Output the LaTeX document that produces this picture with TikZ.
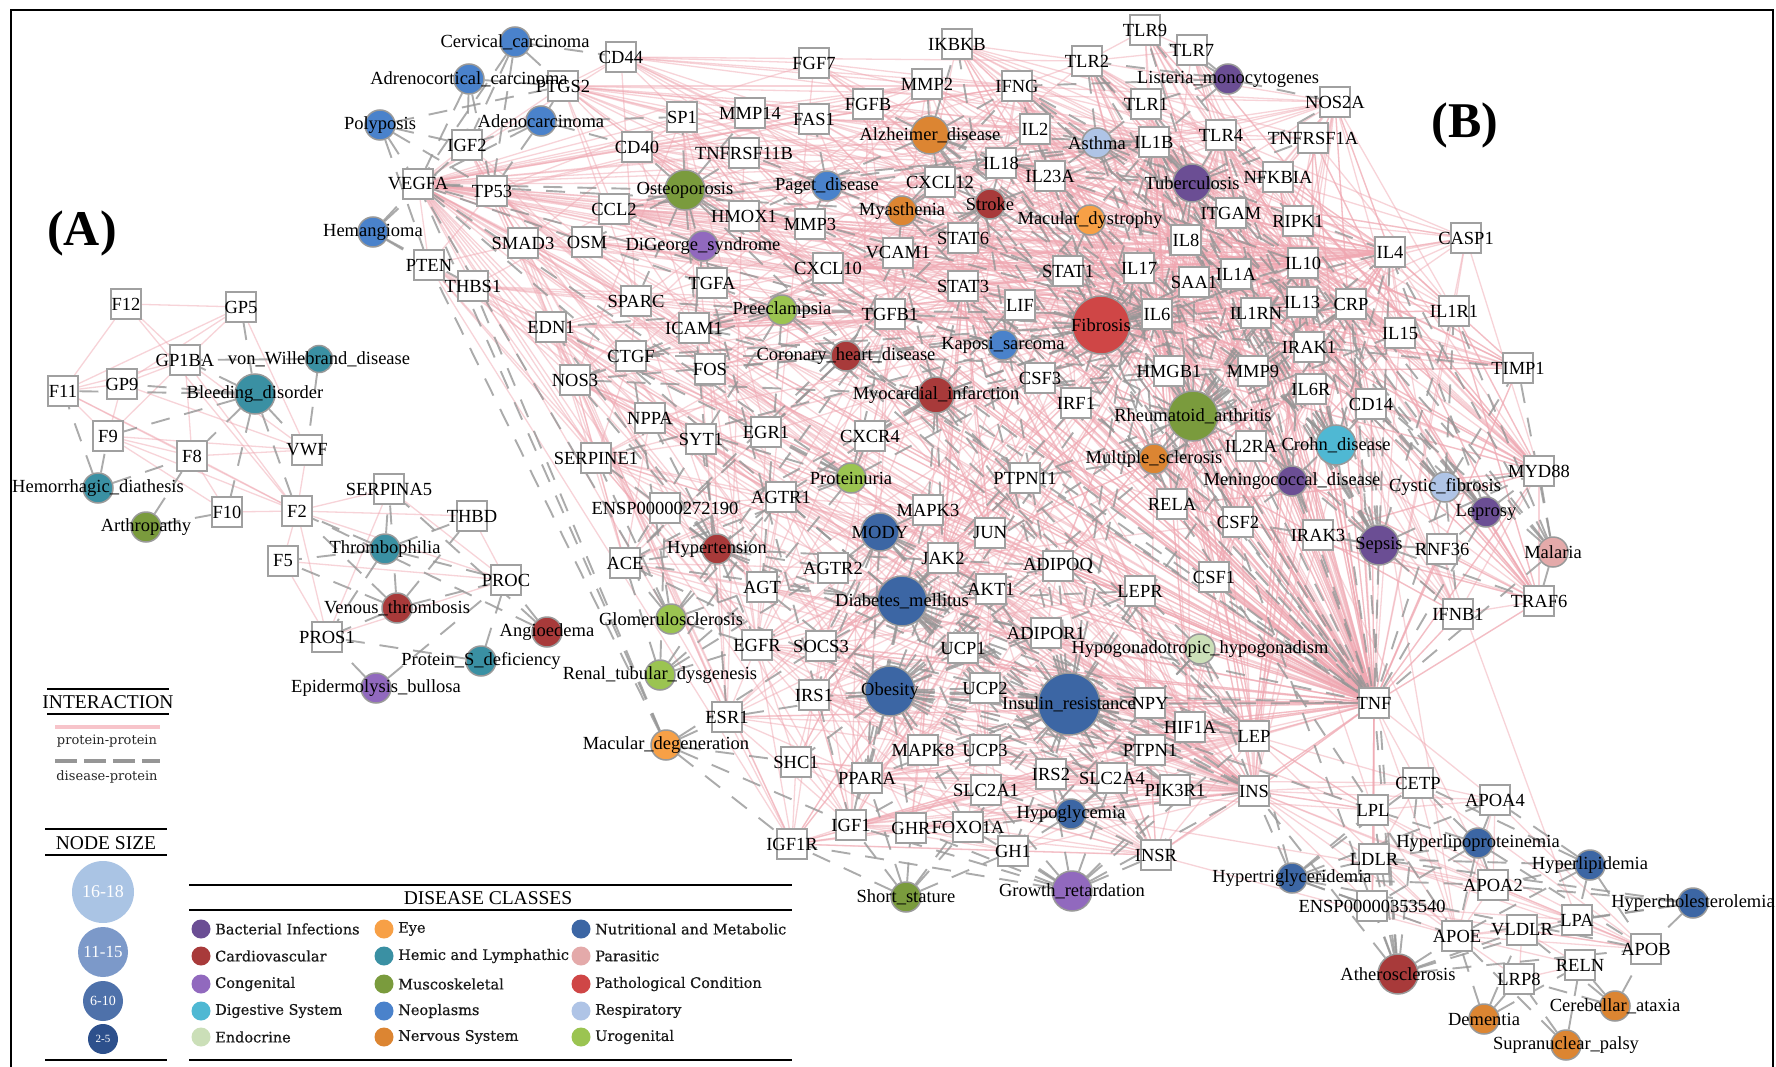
\documentclass[tikz,border=0pt]{standalone}
\usepackage{fontspec}
\setmainfont{Liberation Serif}
\newfontfamily\legfont[FakeBold=0.6]{DejaVu Serif}
\newfontfamily\legfontr{DejaVu Serif}
\pgfdeclarelayer{bgl}\pgfdeclarelayer{pinkl}\pgfdeclarelayer{grayl}\pgfdeclarelayer{txtl}
\pgfsetlayers{bgl,pinkl,grayl,main,txtl}
\definecolor{cBact}{RGB}{107,78,148}
\definecolor{cCardio}{RGB}{168,58,58}
\definecolor{cCong}{RGB}{145,105,190}
\definecolor{cDig}{RGB}{79,184,211}
\definecolor{cEndo}{RGB}{203,223,184}
\definecolor{cEye}{RGB}{247,160,70}
\definecolor{cHemic}{RGB}{58,144,163}
\definecolor{cMusc}{RGB}{122,155,61}
\definecolor{cNeo}{RGB}{74,130,203}
\definecolor{cNerv}{RGB}{220,133,50}
\definecolor{cNutr}{RGB}{60,102,164}
\definecolor{cPara}{RGB}{228,170,170}
\definecolor{cPatho}{RGB}{207,70,70}
\definecolor{cResp}{RGB}{175,196,230}
\definecolor{cUro}{RGB}{155,196,81}
\definecolor{boxgray}{RGB}{160,160,160}
\definecolor{pinkE}{RGB}{240,168,178}
\definecolor{pinkL}{RGB}{247,196,202}
\definecolor{grayE}{RGB}{150,150,150}
\definecolor{sz1}{RGB}{170,196,228}
\definecolor{sz2}{RGB}{124,153,201}
\definecolor{sz3}{RGB}{78,113,170}
\definecolor{sz4}{RGB}{45,80,140}
\tikzset{
 pbox/.style={rectangle, draw=boxgray, line width=2pt, fill=white, minimum size=30pt, inner sep=0pt},
 dnode/.style={circle, draw=black!40, line width=1.5pt, inner sep=0pt},
 lbl/.style={inner sep=0pt, font=\fontsize{18.5}{20}\selectfont, text=black},
 pp/.style={draw=pinkE, line width=1.3pt, draw opacity=0.5},
 dp/.style={draw=grayE, line width=1.9pt, dash pattern=on 19pt off 15pt, draw opacity=0.8},
 legtxt/.style={anchor=west, inner sep=0pt, font=\legfont\fontsize{14.5}{16}\selectfont, text=black!90},
 ttl/.style={inner sep=0pt, font=\fontsize{19.5}{21}\selectfont},
}
\newcommand\mkprot[3]{\node[pbox] (#1) at (#2) {};\begin{pgfonlayer}{txtl}\node[lbl] at (#2) {#3};\end{pgfonlayer}}
\newcommand\mkp[2]{\mkprot{#1}{#2}{#1}}
\newcommand\mkdis[5]{\node[dnode, fill=#4, minimum size=#5pt] (#1) at (#2) {};\begin{pgfonlayer}{txtl}\node[lbl] at (#2) {#3};\end{pgfonlayer}}
\newcommand\hub[3]{\foreach \nb in {#3}{\draw[#1] (#2) -- (\nb);}}
\newcommand\legitem[4]{\fill[#3] (#1,#2) circle (9.5pt);\node[legtxt] at (#1+14,#2) {#4};}
\begin{document}
\begin{tikzpicture}[x=1pt,y=-1pt]
\useasboundingbox (0,0) rectangle (1776,1067);
\begin{pgfonlayer}{bgl}
\fill[white] (0,0) rectangle (1776,1067);
\end{pgfonlayer}
\draw[line width=2.5pt] (11,1090) -- (11,10) -- (1773,10) -- (1773,1090);
% panel labels
\node[inner sep=0pt, font=\bfseries\fontsize{50}{52}\selectfont] at (82,233) {(A)};
\node[inner sep=0pt, font=\bfseries\fontsize{50}{52}\selectfont] at (1465,125) {(B)};
% ---------- Panel A proteins
\mkp{F12}{126,304}
\mkp{GP5}{241,307}
\mkp{GP1BA}{185,360}
\mkp{F11}{63,391}
\mkp{GP9}{122,384}
\mkp{F9}{108,436}
\mkp{F8}{192,456}
\mkp{VWF}{307,450}
\mkp{F10}{227,512}
\mkp{F2}{297,511}
\mkp{SERPINA5}{389,489}
\mkp{THBD}{472,516}
\mkp{F5}{283,561}
\mkp{PROC}{506,580}
\mkp{PROS1}{327,637}
% ---------- Panel B proteins
\mkp{VEGFA}{418,184}
\mkp{PTEN}{429,265}
\mkp{IGF2}{467,145}
\mkp{TP53}{492,191}
\mkp{PTGS2}{563,86}
\mkp{CD44}{621,57}
\mkp{THBS1}{473,286}
\mkp{SMAD3}{523,243}
\mkp{OSM}{587,242}
\mkp{CCL2}{614,209}
\mkp{CD40}{637,147}
\mkp{SP1}{682,117}
\mkp{MMP14}{750,113}
\mkp{FAS1}{814,119}
\mkp{FGF7}{814,63}
\mkp{FGFB}{868,104}
\mkp{TNFRSF11B}{744,153}
\mkp{HMOX1}{744,216}
\mkp{MMP3}{810,224}
\mkp{CXCL10}{828,268}
\mkp{TGFA}{712,283}
\mkp{SPARC}{636,301}
\mkp{EDN1}{551,327}
\mkp{ICAM1}{694,328}
\mkp{CTGF}{631,356}
\mkp{NOS3}{575,380}
\mkp{FOS}{710,369}
\mkp{NPPA}{650,418}
\mkp{SYT1}{701,439}
\mkp{EGR1}{766,432}
\mkp{SERPINE1}{596,458}
\mkprot{ENSP1}{665,508}{ENSP00000272190}
\mkp{AGTR1}{781,497}
\mkp{ACE}{625,563}
\mkp{AGTR2}{833,568}
\mkp{AGT}{762,587}
\mkp{EGFR}{757,645}
\mkp{SOCS3}{821,646}
\mkp{IRS1}{814,695}
\mkp{ESR1}{727,717}
\mkp{SHC1}{796,762}
\mkp{PPARA}{867,778}
\mkp{IGF1}{851,825}
\mkp{IGF1R}{792,844}
\mkp{IKBKB}{957,44}
\mkp{MMP2}{927,84}
\mkp{IFNG}{1017,86}
\mkp{TLR2}{1087,61}
\mkp{TLR9}{1145,30}
\mkp{TLR7}{1192,50}
\mkp{NOS2A}{1335,102}
\mkp{TLR1}{1146,104}
\mkp{IL2}{1035,129}
\mkp{IL1B}{1154,142}
\mkp{TLR4}{1221,135}
\mkp{TNFRSF1A}{1313,138}
\mkp{CXCL12}{940,182}
\mkp{IL18}{1001,163}
\mkp{IL23A}{1050,176}
\mkp{NFKBIA}{1278,177}
\mkp{ITGAM}{1231,213}
\mkp{RIPK1}{1298,221}
\mkp{STAT6}{963,238}
\mkp{IL8}{1186,240}
\mkp{VCAM1}{898,253}
\mkp{STAT1}{1068,271}
\mkp{IL17}{1139,268}
\mkp{SAA1}{1194,282}
\mkp{IL1A}{1236,274}
\mkp{IL10}{1303,263}
\mkp{STAT3}{963,286}
\mkp{TGFB1}{890,314}
\mkp{LIF}{1020,305}
\mkp{IL6}{1157,314}
\mkp{IL1RN}{1256,313}
\mkp{IL13}{1302,302}
\mkp{IRAK1}{1309,347}
\mkp{IL4}{1390,252}
\mkp{CASP1}{1466,238}
\mkp{CRP}{1351,304}
\mkp{IL1R1}{1454,311}
\mkp{IL15}{1400,333}
\mkp{TIMP1}{1518,368}
\mkp{CSF3}{1040,378}
\mkp{IRF1}{1076,403}
\mkp{HMGB1}{1169,371}
\mkp{MMP9}{1253,371}
\mkp{IL6R}{1311,389}
\mkp{CXCR4}{870,436}
\mkp{IL2RA}{1251,446}
\mkp{PTPN11}{1025,478}
\mkp{RELA}{1172,504}
\mkp{MAPK3}{928,510}
\mkp{CSF2}{1238,522}
\mkp{IRAK3}{1318,535}
\mkp{JUN}{990,533}
\mkp{JAK2}{943,558}
\mkp{ADIPOQ}{1058,566}
\mkp{AKT1}{991,589}
\mkp{LEPR}{1140,591}
\mkp{CSF1}{1214,577}
\mkp{ADIPOR1}{1046,633}
\mkp{UCP1}{963,648}
\mkp{UCP2}{985,688}
\mkp{NPY}{1150,703}
\mkp{CD14}{1371,404}
\mkp{MYD88}{1539,471}
\mkp{RNF36}{1442,549}
\mkp{IFNB1}{1458,614}
\mkp{TRAF6}{1539,601}
\mkp{TNF}{1374,703}
\mkp{MAPK8}{923,750}
\mkp{UCP3}{985,750}
\mkp{HIF1A}{1190,727}
\mkp{LEP}{1254,736}
\mkp{PTPN1}{1150,750}
\mkp{IRS2}{1051,774}
\mkp{SLC2A4}{1112,778}
\mkp{SLC2A1}{986,790}
\mkp{PIK3R1}{1175,790}
\mkp{INS}{1254,791}
\mkp{GHR}{911,828}
\mkp{FOXO1A}{968,827}
\mkp{GH1}{1013,851}
\mkp{INSR}{1156,855}
\mkp{CETP}{1418,783}
\mkp{LPL}{1373,810}
\mkp{APOA4}{1495,800}
\mkp{LDLR}{1374,859}
\mkp{APOA2}{1493,885}
\mkprot{ENSP2}{1372,906}{ENSP00000353540}
\mkp{LPA}{1577,920}
\mkp{VLDLR}{1522,930}
\mkp{APOE}{1457,936}
\mkp{APOB}{1646,949}
\mkp{RELN}{1580,965}
\mkp{LRP8}{1519,979}
% ---------- Diseases panel A
\mkdis{vWD}{319,359}{von\_Willebrand\_disease}{cHemic}{27}
\mkdis{Bleeding}{255,394}{Bleeding\_disorder}{cHemic}{40}
\mkdis{Hemorrhagic}{98,488}{Hemorrhagic\_diathesis}{cHemic}{30}
\mkdis{Arthropathy}{146,527}{Arthropathy}{cMusc}{30}
\mkdis{Thrombophilia}{385,549}{Thrombophilia}{cHemic}{30}
\mkdis{Venous}{397,608}{Venous\_thrombosis}{cCardio}{30}
\mkdis{Angioedema}{547,632}{Angioedema}{cCardio}{30}
\mkdis{ProtS}{481,661}{Protein\_S\_deficiency}{cHemic}{30}
\mkdis{Epidermolysis}{376,688}{Epidermolysis\_bullosa}{cCong}{30}
% ---------- Diseases panel B
\mkdis{Polyposis}{380,125}{Polyposis}{cNeo}{30}
\mkdis{Cervical}{515,42}{Cervical\_carcinoma}{cNeo}{30}
\mkdis{Adrenocortical}{469,79}{Adrenocortical\_carcinoma}{cNeo}{30}
\mkdis{Adenocarcinoma}{541,121}{Adenocarcinoma}{cNeo}{30}
\mkdis{Hemangioma}{373,232}{Hemangioma}{cNeo}{30}
\mkdis{Osteoporosis}{685,190}{Osteoporosis}{cMusc}{40}
\mkdis{Paget}{827,186}{Paget\_disease}{cNeo}{30}
\mkdis{DiGeorge}{703,246}{DiGeorge\_syndrome}{cCong}{30}
\mkdis{Preeclampsia}{782,310}{Preeclampsia}{cUro}{30}
\mkdis{Coronary}{846,356}{Coronary\_heart\_disease}{cCardio}{30}
\mkdis{Alzheimer}{930,135}{Alzheimer\_disease}{cNerv}{38}
\mkdis{Myasthenia}{902,211}{Myasthenia}{cNerv}{30}
\mkdis{Stroke}{990,204}{Stroke}{cCardio}{30}
\mkdis{Asthma}{1097,143}{Asthma}{cResp}{30}
\mkdis{MacDys}{1090,220}{Macular\_dystrophy}{cEye}{30}
\mkdis{Listeria}{1228,79}{Listeria\_monocytogenes}{cBact}{30}
\mkdis{Tuberculosis}{1192,183}{Tuberculosis}{cBact}{38}
\mkdis{Fibrosis}{1101,325}{Fibrosis}{cPatho}{58}
\mkdis{Kaposi}{1003,345}{Kaposi\_sarcoma}{cNeo}{30}
\mkdis{MyoInf}{936,395}{Myocardial\_infarction}{cCardio}{36}
\mkdis{RA}{1193,416}{Rheumatoid\_arthritis}{cMusc}{50}
\mkdis{MS}{1154,459}{Multiple\_sclerosis}{cNerv}{30}
\mkdis{Crohn}{1336,445}{Crohn\_disease}{cDig}{40}
\mkdis{Mening}{1292,481}{Meningococcal\_disease}{cBact}{30}
\mkdis{Cystic}{1445,487}{Cystic\_fibrosis}{cResp}{30}
\mkdis{Leprosy}{1486,512}{Leprosy}{cBact}{30}
\mkdis{Sepsis}{1379,545}{Sepsis}{cBact}{40}
\mkdis{Malaria}{1553,552}{Malaria}{cPara}{30}
\mkdis{Proteinuria}{851,478}{Proteinuria}{cUro}{30}
\mkdis{Hypertension}{717,549}{Hypertension}{cCardio}{30}
\mkdis{Glomerulo}{671,619}{Glomerulosclerosis}{cUro}{30}
\mkdis{Renal}{660,675}{Renal\_tubular\_dysgenesis}{cUro}{30}
\mkdis{MODY}{880,532}{MODY}{cNutr}{38}
\mkdis{Diabetes}{902,601}{Diabetes\_mellitus}{cNutr}{50}
\mkdis{Obesity}{890,691}{Obesity}{cNutr}{50}
\mkdis{InsRes}{1069,704}{Insulin\_resistance}{cNutr}{62}
\mkdis{Hypogon}{1200,649}{Hypogonadotropic\_hypogonadism}{cEndo}{30}
\mkdis{MacDeg}{666,745}{Macular\_degeneration}{cEye}{30}
\mkdis{ShortStat}{906,897}{Short\_stature}{cMusc}{30}
\mkdis{GrowthRet}{1072,891}{Growth\_retardation}{cCong}{40}
\mkdis{Hypoglycemia}{1071,814}{Hypoglycemia}{cNutr}{30}
\mkdis{Hypertrig}{1292,878}{Hypertriglyceridemia}{cNutr}{30}
\mkdis{Hyperlipo}{1478,843}{Hyperlipoproteinemia}{cNutr}{30}
\mkdis{Hyperlipid}{1590,865}{Hyperlipidemia}{cNutr}{30}
\mkdis{Hyperchol}{1693,903}{Hypercholesterolemia}{cNutr}{30}
\mkdis{Athero}{1398,974}{Atherosclerosis}{cCardio}{40}
\mkdis{Dementia}{1484,1019}{Dementia}{cNerv}{30}
\mkdis{Cerebellar}{1615,1006}{Cerebellar\_ataxia}{cNerv}{30}
\mkdis{Supranuclear}{1566,1045}{Supranuclear\_palsy}{cNerv}{30}
% ---------- protein-protein edges
\begin{pgfonlayer}{pinkl}
\hub{pp}{F12}{GP5,GP1BA,F11,F2}
\hub{pp}{GP5}{GP1BA,GP9,F11,VWF}
\hub{pp}{GP1BA}{F11,GP9,F8,VWF,F2,F9}
\hub{pp}{F11}{GP9,F9,F8,F2}
\hub{pp}{GP9}{F9,VWF}
\hub{pp}{F9}{F8,F2,F10,VWF}
\hub{pp}{F8}{F10,F2,VWF}
\hub{pp}{VWF}{F2}
\hub{pp}{F10}{F2}
\hub{pp}{F2}{SERPINA5,THBD,PROC,F5,PROS1}
\hub{pp}{F5}{PROC,PROS1}
\hub{pp}{SERPINA5}{PROC,PROS1}
\hub{pp}{THBD}{PROC}
\hub{pp}{PROS1}{PROC}
\hub{pp}{VEGFA}{PTGS2,IGF2,TP53,PTEN,THBS1,SMAD3,OSM,CCL2,CD40,SP1,MMP14,FAS1,FGF7,FGFB,MMP2,CD44,TNFRSF11B,HMOX1,MMP3,CXCL10,TGFA,SPARC,EDN1,ICAM1,CTGF,NOS3,VCAM1,STAT3,STAT1,TGFB1,IL8,IL6,IL1B,IFNG,CXCL12,HIF1A,MMP9,TNF,EGFR,IGF1,AKT1,JUN,FOS,IL18,LIF,IL2,IL17,SERPINE1,NPPA,AGT,ESR1,INS,IL10,IL4}
\hub{pp}{TP53}{PTEN,IGF2,MMP2,SP1,SMAD3,FAS1,AKT1,JUN,EGFR,HIF1A,IGF1R,MAPK8,TNF,ESR1,IL6,FOS,MAPK3}
\hub{pp}{PTGS2}{CD44,IL1B,IL6,TNF,NOS2A,IFNG,CCL2,IL8,TGFB1,HIF1A,STAT3,EGFR,MMP9,SP1,TLR4,NFKBIA,IL10,IL4,IL2}
\hub{pp}{CD44}{MMP9,MMP2,SPARC,FGF7,IL8,TLR2,TLR4,SP1,STAT3,IL6,IFNG,HMGB1}
\hub{pp}{IGF2}{IGF1R,INS,INSR,IGF1,FOXO1A}
\hub{pp}{PTEN}{AKT1,IGF1R,PIK3R1,INS,IRS1,EGFR,SMAD3}
\hub{pp}{THBS1}{TGFB1,SPARC,MMP9,CTGF,EDN1,NOS3,IL6,CCL2,SERPINE1}
\hub{pp}{SMAD3}{TGFB1,CTGF,SERPINE1,JUN,STAT3,ESR1,SP1,FOS,MAPK3,IL6}
\hub{pp}{OSM}{IL6,STAT3,LIF,STAT1,JAK2,TIMP1,MMP3,IL1B,TNF,IL6R}
\hub{pp}{CCL2}{IL6,IL1B,TNF,IL8,ICAM1,VCAM1,CXCL10,IFNG,IL4,IL10,IL13,CXCR4,MMP9,NOS2A,CXCL12,IL17,STAT3,IL18,IL2}
\hub{pp}{CD40}{TNF,IL4,IFNG,IL6,IL10,TRAF6,ICAM1,VCAM1,IL1B,IL2,NFKBIA,RELA}
\hub{pp}{SP1}{FOS,JUN,MMP2,EGR1,HMOX1,ESR1,LEP,INS,NOS3,IL6}
\hub{pp}{MMP14}{MMP2,MMP9,TIMP1,MMP3,CD44,TNF}
\hub{pp}{FAS1}{TNF,IL2,IFNG,TNFRSF1A,RIPK1,IL10,JUN,STAT1,IL6,IL1B}
\hub{pp}{FGF7}{FGFB,EGFR,IL1B,IL6,TNF,IL1A,IL17,IFNG}
\hub{pp}{FGFB}{IL6,TGFB1,MMP2,IL1B,TNF,HIF1A,MMP9,CXCL12,IGF1}
\hub{pp}{MMP2}{MMP9,TIMP1,MMP3,TNF,IL1B,IL6,TGFB1,IFNG,HIF1A,SPARC,CTGF,IL8}
\hub{pp}{IKBKB}{NFKBIA,RELA,TNF,IL1B,TLR4,IRAK1,TRAF6,RIPK1,TNFRSF1A,MYD88,IRS1,IL6,IFNG,TLR2}
\hub{pp}{IFNG}{IL2,IL4,IL10,TNF,IL18,IL17,STAT1,IRF1,CXCL10,IL1B,IL6,IL8,TLR2,TLR4,ICAM1,NOS2A,IL13,IL15,CSF2,IL2RA,IL23A}
\hub{pp}{TLR2}{TLR1,TLR4,TLR9,TLR7,MYD88,IRAK1,TRAF6,TNF,IL1B,IL6,IL8,IL10,CD14,HMGB1,NFKBIA,NOS2A,CXCL10}
\hub{pp}{TLR9}{TLR7,TLR4,MYD88,IRAK1,TNF,IFNB1,IL6,TRAF6,IL10,HMGB1}
\hub{pp}{TLR7}{MYD88,IRAK1,IFNB1,TNF,TRAF6,IL6,TLR4}
\hub{pp}{TLR1}{TLR4,MYD88,TNF,IL1B,CD14,IL6}
\hub{pp}{TLR4}{MYD88,CD14,TNF,IL1B,IL6,IL10,NFKBIA,IRAK1,TRAF6,HMGB1,IFNB1,IL8,NOS2A,RELA,IRAK3,SAA1,CASP1,IL1R1,IL4}
\hub{pp}{NOS2A}{TNF,IL1B,IL6,NFKBIA,IL10,STAT1,IRF1,IL4,IL13,HMOX1,RELA,ICAM1,INS,IL1R1,IL15}
\hub{pp}{TNFRSF1A}{TNF,RIPK1,TRAF6,NFKBIA,IL1R1,IL6,IL1B,IRAK1,IL6R}
\hub{pp}{IL1B}{IL6,TNF,IL8,IL10,IL1A,IL1RN,IL1R1,IL18,CASP1,IL4,IL13,IL17,IL2,NFKBIA,IRAK1,MYD88,CRP,SAA1,MMP9,MMP3,ICAM1,VCAM1,CXCL10,IL23A,IL15,HMGB1,CSF2,CSF3,TIMP1,IL6R,IL2RA,LEP,INS}
\hub{pp}{IL2}{IL4,IL10,IL2RA,IL15,IL13,TNF,IL6,IL17,IL18,IL1A,STAT3,CSF2,IL23A,STAT1}
\hub{pp}{IL18}{CASP1,TNF,IL6,IL10,IL4,IL17,IL8,IL1R1,IL1RN,MYD88}
\hub{pp}{IL23A}{IL17,IL6,IL10,STAT3,TNF,TGFB1,IL4,IL13}
\hub{pp}{CXCL12}{CXCR4,IL8,MMP9,MMP2,TNF,IL6,HIF1A,STAT3,IL1B}
\hub{pp}{NFKBIA}{RELA,TNF,IL6,IL8,TRAF6,RIPK1,IRAK1,MYD88,IL10}
\hub{pp}{RIPK1}{TNF,TRAF6,CASP1,IRAK1,MYD88,TLR4}
\hub{pp}{ITGAM}{ICAM1,TNF,IL8,CD14,IL1B,IL6,CSF2,TLR4,TLR2}
\hub{pp}{IL8}{IL6,TNF,IL10,IL4,CXCL10,ICAM1,VCAM1,MMP9,HMGB1,IL17,CSF2,IL1A,IL13,CRP,SAA1,RELA,STAT3,HIF1A}
\hub{pp}{STAT6}{IL4,IL13,STAT1,STAT3,JAK2,IL10,CCL2}
\hub{pp}{STAT1}{STAT3,IRF1,JAK2,IL6,IL10,IL4,IFNB1,CXCL10,SOCS3,TNF}
\hub{pp}{STAT3}{IL6,IL10,JAK2,SOCS3,IL6R,LEPR,LEP,IL17,IL2,IL4,TNF,EGFR,AKT1,JUN,HIF1A,INS,LIF,CSF3,IL15,IL13,TIMP1}
\hub{pp}{LIF}{IL6,JAK2,TNF,IL1B}
\hub{pp}{TGFB1}{IL6,IL10,IL17,TNF,IL1B,IL4,CTGF,SERPINE1,MMP9,TIMP1,IFNG,IL2,IL13,FOS,JUN,EGFR,HMOX1,SPARC,IGF1,LEP,ADIPOQ,CCL2,ICAM1,VCAM1,EDN1,ACE,AGT,AGTR1,PPARA}
\hub{pp}{VCAM1}{ICAM1,TNF,IL6,IL4,IL13,CXCL12,NOS3,EDN1}
\hub{pp}{ICAM1}{TNF,IL6,NFKBIA,RELA,CRP,IL10,IL4,IL13}
\hub{pp}{CXCL10}{TNF,CCL2,IL6,STAT1,IRF1,IL10,IL4,IL17,TLR4}
\hub{pp}{HMOX1}{TNF,IL6,IL10,IL1B,HIF1A,NOS3,STAT3}
\hub{pp}{MMP3}{MMP9,TIMP1,TNF,IL6,IL17,IL1A}
\hub{pp}{TNFRSF11B}{TNF,IL6,IL1B,IL17,TGFB1,IL1A,ESR1}
\hub{pp}{TGFA}{EGFR,TNF,IL8,TGFB1}
\hub{pp}{SPARC}{CTGF,MMP9}
\hub{pp}{EDN1}{NOS3,TNF,IL6,IL1B,AGT,ACE,AGTR1,NPPA,HIF1A,ICAM1,INS,EGR1}
\hub{pp}{CTGF}{SERPINE1,EGR1,FOS,JUN,IL6}
\hub{pp}{NOS3}{AGT,ACE,AGTR1,INS,AKT1,HIF1A,TNF,IL6,ESR1,ADIPOQ,NPPA,SERPINE1}
\hub{pp}{FOS}{JUN,EGR1,MAPK3,MAPK8,ESR1,TNF,IL6,IL1B,STAT3,IL2,IFNG,EGFR,INS}
\hub{pp}{NPPA}{AGT,ACE,AGTR1,AGTR2,IL6,TNF,INS}
\hub{pp}{SYT1}{INS,NPY,SLC2A4}
\hub{pp}{EGR1}{JUN,TNF,EGFR,TGFB1,IL6,IL1B,SERPINE1,ICAM1,PTEN}
\hub{pp}{SERPINE1}{TNF,IL6,IL1B,INS,ADIPOQ,LEP,AGT,ACE,AGTR1,PPARA}
\hub{pp}{ENSP1}{AGT,ACE,AGTR1,AGTR2}
\hub{pp}{AGTR1}{AGT,ACE,AGTR2,EDN1,TNF,IL6,JAK2,STAT3,EGFR,MAPK3,INS,ADIPOQ,LEP,PPARA}
\hub{pp}{ACE}{AGT,AGTR2,INS,TNF,IL6,LEP}
\hub{pp}{AGTR2}{AGT,MAPK3,PTPN11}
\hub{pp}{AGT}{INS,LEP,TNF,IL6,ADIPOQ,PPARA,LPL}
\hub{pp}{EGFR}{SHC1,IRS1,JAK2,MAPK3,MAPK8,AKT1,PTPN11,SOCS3,ESR1,JUN,IGF1R,INSR,PIK3R1,PTPN1,HIF1A,TNF,IL6,INS}
\hub{pp}{SOCS3}{JAK2,IL6,LEPR,LEP,INS,INSR,IRS1,IRS2,IL10,TNF}
\hub{pp}{IRS1}{INS,INSR,IGF1R,IGF1,PIK3R1,AKT1,PTPN1,PTPN11,SHC1,JAK2,MAPK3,MAPK8,TNF,IRS2,SLC2A4,FOXO1A}
\hub{pp}{ESR1}{IGF1,INS,LEP,TNF,IL6,JUN,MAPK3,AKT1,PPARA,IGF1R}
\hub{pp}{SHC1}{IGF1R,INSR,PTPN11,MAPK3,GHR,PIK3R1,INS}
\hub{pp}{PPARA}{INS,LEP,ADIPOQ,TNF,IL6,LPL,APOA2,APOE,UCP2,UCP3,UCP1,SLC2A4,FOXO1A,LEPR,NPY,IL1B,CETP}
\hub{pp}{IGF1}{IGF1R,INS,INSR,GH1,GHR,IRS1,IRS2,AKT1,PIK3R1,FOXO1A,SHC1,LEP,TNF,IL6,SLC2A1,SLC2A4,PTPN11,SOCS3,HIF1A}
\hub{pp}{IGF1R}{INS,INSR,IRS2,PIK3R1,AKT1,PTPN11,PTPN1}
\hub{pp}{MAPK3}{MAPK8,JUN,INS,INSR,IRS1,SHC1,STAT3,TNF,IL6,LEP,AKT1,PTPN11,JAK2}
\hub{pp}{JUN}{MAPK8,TNF,IL6,IL1B,STAT3,SP1,TGFB1,HIF1A}
\hub{pp}{JAK2}{STAT3,STAT1,SOCS3,LEPR,LEP,IL6,IL6R,INS,IRS1,IRS2,GHR,GH1,PTPN1,PTPN11,CSF2,CSF3,IFNG}
\hub{pp}{AKT1}{PIK3R1,IRS2,INS,INSR,FOXO1A,SLC2A4,SLC2A1,HIF1A,TNF,IL6,ADIPOQ,LEP,PTPN1,IGF1R}
\hub{pp}{ADIPOQ}{ADIPOR1,LEP,LEPR,INS,INSR,TNF,IL6,IRS1,SLC2A4,CRP,UCP2,NPY,IL10}
\hub{pp}{LEPR}{LEP,JAK2,NPY,INS,INSR,PTPN1,IRS1,IRS2,GHR}
\hub{pp}{CSF1}{CSF2,CSF3,IL6,TNF,IL1B,IL4,IL10,IL13,IL17,IFNG}
\hub{pp}{ADIPOR1}{INS,LEP,PPARA,UCP2,AKT1}
\hub{pp}{UCP1}{UCP2,UCP3,LEP,INS,ADIPOQ,NPY}
\hub{pp}{UCP2}{UCP3,LEP,INS,NPY}
\hub{pp}{NPY}{LEP,INS,IL6,TNF,GH1}
\hub{pp}{HIF1A}{INS,IL6,TNF,SLC2A1,LEP,IGF1,NOS2A,IL1B}
\hub{pp}{LEP}{INS,INSR,TNF,IL6,IL1B,UCP3,IRS1,IRS2,PTPN1,SLC2A4,CRP,IL10,GH1,GHR,LPL,APOE,CETP,SAA1}
\hub{pp}{MAPK8}{INS,IRS1,TNF,IL6}
\hub{pp}{UCP3}{INS}
\hub{pp}{PTPN1}{INS,INSR,IRS2}
\hub{pp}{IRS2}{INS,INSR,PIK3R1,FOXO1A}
\hub{pp}{SLC2A4}{INS,INSR,PIK3R1,SLC2A1,TNF}
\hub{pp}{SLC2A1}{INS,INSR}
\hub{pp}{PIK3R1}{INS,INSR,PTPN11}
\hub{pp}{INS}{INSR,GH1,GHR,FOXO1A,UCP1,UCP2,NPY,TNF,IL6,CRP,IL10,IL4,TLR4,CETP,APOA4,LDLR,APOE,APOB,APOA2,ENSP2,LPL,IL1B}
\hub{pp}{GHR}{GH1,STAT3,SOCS3,INS,IGF1R}
\hub{pp}{FOXO1A}{INSR}
\hub{pp}{GH1}{IGF1R,INSR}
\hub{pp}{INSR}{PTPN11,TNF}
\hub{pp}{PTPN11}{STAT3,LEPR,GHR,IL6,IL6R,IGF1R}
\hub{pp}{CXCR4}{IL8,TNF,IL4,STAT3,IL10,CSF3}
\hub{pp}{CSF3}{CSF2,IL6,IL1B,TNF,IL17,IL8,IL10}
\hub{pp}{IRF1}{IFNB1,TNF,IL6,IL1B,TLR4}
\hub{pp}{HMGB1}{TNF,IL6,IL1B,IL8,MYD88,RELA,IL10,IL17,CASP1}
\hub{pp}{MMP9}{TIMP1,TNF,IL1B,IL6,IL17,IL10,IL4,CRP,HIF1A,SAA1}
\hub{pp}{IL6R}{IL6,JAK2,SOCS3,TNF,IL10,IL17,CRP,SAA1,LEP}
\hub{pp}{IL2RA}{IL15,IL4,IL10,TNF,IL6,IL17,IL13}
\hub{pp}{RELA}{TNF,IL6,IL1B,IKBKB,TRAF6,MYD88,IRAK1,IL10,IL4,STAT3,VCAM1,NOS2A,RIPK1}
\hub{pp}{CSF2}{CSF1,IL6,TNF,IL4,IL13,IL10,IL17,IL15,STAT3}
\hub{pp}{IRAK3}{IRAK1,MYD88,TRAF6,TLR4,TNF,IL6,IL10,IL1B}
\hub{pp}{CD14}{MYD88,TNF,IL6,IL1B,IL10,IL8,CRP,SAA1,IRAK1,TRAF6}
\hub{pp}{TIMP1}{MMP9,MMP2,MMP3,TNF,IL6,IL1B,IL10,IL4,IL13}
\hub{pp}{MYD88}{IRAK1,IRAK3,TRAF6,TNF,IL1B,IL6,IL18,IL1R1,NFKBIA,RELA,IFNB1,IL10,HMGB1,TLR7,TLR9}
\hub{pp}{RNF36}{TNF,IFNB1,IL4,TRAF6}
\hub{pp}{IFNB1}{TNF,IL6,IL10,IRF1,STAT1,TRAF6,IFNG,IL1B}
\hub{pp}{TRAF6}{TNF,IRAK1,NFKBIA,RELA,IKBKB,IL1R1,IL6,IL1B,CD40,RIPK1,TNFRSF1A}
\hub{pp}{TNF}{IL10,IL4,IL1A,IL2,TLR1,IKBKB,CRP,IL15,IL1R1,CASP1,TIMP1,IRAK1,IL6R,IL2RA,CSF2,CSF1,RELA,LEPR,ADIPOQ,INS,LEP,SAA1,HMGB1,MMP9,IL13,IL17,IL23A,IL18,STAT1,STAT3,ICAM1,VCAM1,CCL2,SOCS3,NPY,PPARA,LPL,CETP,IL1RN,ITGAM,NOS2A,IRF1,CSF3,HMOX1,MMP3,MMP2,TGFB1,VEGFA,PTGS2,CXCL10,CXCL12,EDN1,FAS1,CD40,APOE,LDLR,ENSP2,INSR,IRS1,HIF1A,AGT,JUN,FOS,MAPK8,MAPK3,AKT1,JAK2,ESR1,NOS3,SERPINE1,TGFA,EGFR,TNFRSF11B,FGF7,FGFB,CXCR4,UCP2,IL8,IL6,IL1B,IFNG,TLR2,TLR4,TLR9,TLR7,NFKBIA,RIPK1,TNFRSF1A,MYD88,TRAF6,IFNB1,RNF36,IRAK3,CD14,APOA4}
\hub{pp}{IL4}{IL13,IL10,IL1B,IL6,IL8,IL17,IL15,CASP1,IL1R1,IL2RA,CSF2,STAT6,IL18,IL1A,IL1RN,IL6R,VCAM1,ICAM1,CRP,TIMP1,CD14,MYD88,TLR4,TLR2,IL23A,STAT3,NOS2A,IRAK1,SAA1,CXCL10}
\hub{pp}{CASP1}{IL18,IL1A,IL1R1,IL6,MYD88,IRAK1}
\hub{pp}{CRP}{IL6,SAA1,IL10,IL8,IL1RN,IL6R,ICAM1,LEP,ADIPOQ,CD14,IL1A,IL15,MMP9,LPA,APOE}
\hub{pp}{IL1R1}{IL1A,IL1RN,MYD88,IRAK1,TRAF6,IL6,IL18,IL10}
\hub{pp}{IL15}{IL10,IL6,IL17,IFNG,IL1B,IL13,IL18,STAT3,CSF2}
\hub{pp}{IRAK1}{MYD88,TRAF6,IL1B,IL6,NFKBIA,RELA}
\hub{pp}{IL13}{IL10,IL6,IL17,IFNG,STAT6,IL8,IL15,CSF2,IL23A,IL18}
\hub{pp}{IL1RN}{IL1A,IL6,IL10,CRP,IL8}
\hub{pp}{IL10}{IL6,IL17,IL15,IL18,IL23A,TLR4,TLR2,STAT3,STAT1,CXCL10,IL1A,SAA1,HMOX1,SOCS3,LEP,ADIPOQ,INS}
\hub{pp}{IL1A}{IL6,IL8,IL17,CASP1,MMP3,SAA1}
\hub{pp}{SAA1}{IL6,TLR2,APOA2,LPL}
\hub{pp}{IL17}{IL6,IL8,STAT3,CSF2,CSF3,IL6R}
\hub{pp}{IL6}{IL6R,SOCS3,JAK2,CRP,SAA1,LEP,ADIPOQ,INS,IL18,IL23A,MMP9,TIMP1,HMGB1,TLR4,TLR2,MYD88,NFKBIA,RELA,CSF2,CSF3,HIF1A,STAT1,IRAK1,IL2RA,CD14}
\hub{pp}{LPL}{CETP,APOA4,APOE,LDLR,APOA2,APOB,ENSP2,LEP,INS,TNF}
\hub{pp}{CETP}{APOA4,APOA2,APOE,APOB,LDLR}
\hub{pp}{APOA4}{APOA2,APOE,APOB}
\hub{pp}{APOE}{LDLR,APOB,VLDLR,LRP8,RELN,LPA,APOA2,ENSP2}
\hub{pp}{VLDLR}{RELN,LRP8,APOB}
\hub{pp}{LRP8}{RELN}
\hub{pp}{LDLR}{APOB,APOA2,LPA,ENSP2}
\hub{pp}{LPA}{APOB,APOA2}
\hub{pp}{APOA2}{APOB}
\hub{pp}{ENSP2}{APOB,LPA}
\end{pgfonlayer}
% ---------- disease-protein edges
\begin{pgfonlayer}{grayl}
\hub{dp}{vWD}{VWF,GP1BA}
\hub{dp}{Bleeding}{GP1BA,GP9,F9,F8,VWF,F10,F2,F11,GP5}
\hub{dp}{Hemorrhagic}{F9,F8,F11}
\hub{dp}{Arthropathy}{F8,F10}
\hub{dp}{Thrombophilia}{F2,F5,PROC,SERPINA5,THBD,PROS1}
\hub{dp}{Venous}{F2,F5,PROC,PROS1,THBD,SERPINA5}
\hub{dp}{Angioedema}{PROC,SERPINA5,F2}
\hub{dp}{ProtS}{PROS1,PROC}
\hub{dp}{Epidermolysis}{PROS1,PROC}
\hub{dp}{Polyposis}{PTGS2,VEGFA,IGF2,TP53,PTEN}
\hub{dp}{Cervical}{PTGS2,VEGFA,TP53,CD44,IGF2}
\hub{dp}{Adrenocortical}{IGF2,TP53,VEGFA,PTGS2}
\hub{dp}{Adenocarcinoma}{PTGS2,IGF2,TP53,VEGFA,CD40,SP1}
\hub{dp}{Hemangioma}{VEGFA,PTEN,THBS1,IGF2}
\hub{dp}{Osteoporosis}{TNFRSF11B,IL6,ESR1,TNF,IL1B,CD40,SP1,CCL2,TGFB1,VEGFA,IGF1,LEP,SPARC,OSM,MMP14}
\hub{dp}{Paget}{TNFRSF11B,IL6,MMP3,FAS1,IL1B}
\hub{dp}{DiGeorge}{TGFA,CCL2,ICAM1}
\hub{dp}{Preeclampsia}{VEGFA,EDN1,AGT,ACE,TNF,IL6,SPARC,ICAM1,TGFB1,LEP,NOS3}
\hub{dp}{Coronary}{CRP,IL6,ICAM1,VCAM1,FOS,TNF,NOS3,ACE,MMP9,CTGF,EGR1}
\hub{dp}{Alzheimer}{MMP2,IL1B,TNF,IL6,IFNG,CXCL12,APOE,IL18,MMP9,IKBKB,FGFB,HMOX1,IL10}
\hub{dp}{Myasthenia}{CXCL12,IL2,IFNG,TNF,VCAM1,IL6}
\hub{dp}{Stroke}{IL18,CXCL12,STAT6,IL6,TNF,IL1B,VCAM1,ACE,NOS3}
\hub{dp}{Asthma}{IL1B,IL4,IL13,IL2,IL23A,IFNG,TLR2,TLR1,TNF,IL10,IL17,CCL2}
\hub{dp}{MacDys}{IL23A,IL8,STAT1,IL17,VEGFA,TNF}
\hub{dp}{Listeria}{TLR2,TLR7,TLR9,TLR1,NOS2A,IL1B,IFNG}
\hub{dp}{Tuberculosis}{TLR2,TLR4,TLR1,IFNG,IL1B,NFKBIA,ITGAM,IL10,TNF,IL8,NOS2A,IL6,TNFRSF1A,IL18,IL23A,TLR9}
\hub{dp}{Fibrosis}{TGFB1,CTGF,IL6,IL13,IL17,LIF,STAT1,STAT3,MMP9,SAA1,IL1A,IL8,TIMP1,SERPINE1,CSF3,IRF1,IL4,IL1B,TNF,IL10,HMGB1,CXCL12,IL2,IL18}
\hub{dp}{Kaposi}{LIF,IL6,STAT3,VEGFA,TGFB1,CSF3}
\hub{dp}{MyoInf}{CRP,IL6,TNF,IL10,HMGB1,CXCR4,MMP9,JAK2,STAT3,MAPK3,ACE,AGTR1,NOS3,IL1B,LEP,ADIPOQ,ICAM1,VCAM1}
\hub{dp}{RA}{IL6,IL1B,TNF,IL10,IL1RN,IL17,HMGB1,MMP9,IL6R,IL2RA,IRF1,CSF2,CSF3,IL15,IL13,IL4,MMP3,PTPN11,RELA,IL1A,SAA1,CRP,IL18,IL23A}
\hub{dp}{MS}{IL2RA,IL6R,RELA,CSF2,IL17,IFNG,IL10,TNF,IRF1,MMP9,PTPN11}
\hub{dp}{Crohn}{IL6R,IL10,IL23A,IL1B,IL2RA,CD14,IL17,IL8,TNF,MMP9,IL13,IL4,IL1RN}
\hub{dp}{Mening}{CSF2,IRAK3,IL1B,TNF,IL10,TLR4,IL6,CD14}
\hub{dp}{Cystic}{IL8,MYD88,TNF,IL1B,IL10,CD14,IL1R1,TIMP1,IFNB1}
\hub{dp}{Leprosy}{RNF36,TLR2,IL10,TNF,IFNG,TLR1,MYD88,IL4}
\hub{dp}{Sepsis}{IRAK3,TNF,IL6,IL10,IL1B,TLR4,CD14,HMGB1,CRP,IL8,CSF2,MYD88,IL1RN,TRAF6,IL4,IFNB1,RNF36,TLR2,IL1R1}
\hub{dp}{Malaria}{TNF,IL10,IL4,TRAF6,MYD88,IFNG,TIMP1,IL1R1,TLR9}
\hub{dp}{Proteinuria}{AGTR1,ACE,AGT,CXCR4,EGR1,VEGFA,TGFB1,IL6,NPPA,EDN1}
\hub{dp}{Hypertension}{ACE,AGT,AGTR1,AGTR2,NOS3,EDN1,ENSP1,NPPA,SYT1,EGFR,INS,LEP,ADIPOQ,SERPINE1}
\hub{dp}{Glomerulo}{ACE,AGT,AGTR1,EGFR,TGFB1,SERPINE1,VEGFA,CTGF}
\hub{dp}{Renal}{ACE,AGT,AGTR1,AGTR2,ENSP1,EGFR}
\hub{dp}{MODY}{INS,INSR,IRS1,MAPK3,AGTR2,AKT1,JAK2,SOCS3,PPARA,SLC2A4}
\hub{dp}{Diabetes}{INS,INSR,IRS1,IRS2,PIK3R1,SLC2A4,SLC2A1,ADIPOQ,ADIPOR1,LEP,LEPR,UCP1,UCP2,PPARA,TNF,IL6,AGT,ACE,JAK2,AKT1,SOCS3,PTPN1,IGF1,PTPN11,MAPK3,CRP,AGTR1,VEGFA}
\hub{dp}{Obesity}{INS,LEP,LEPR,ADIPOQ,ADIPOR1,UCP1,UCP2,UCP3,NPY,PPARA,SOCS3,IRS1,IRS2,PTPN1,MAPK8,TNF,IL6,SLC2A4,GH1,GHR,FOXO1A,IGF1,SHC1,JAK2,AKT1,ESR1,CRP,AGT,ACE}
\hub{dp}{InsRes}{INS,INSR,IRS1,IRS2,PIK3R1,SLC2A4,SLC2A1,PTPN1,ADIPOQ,ADIPOR1,LEP,LEPR,TNF,IL6,NPY,HIF1A,UCP2,UCP3,MAPK8,FOXO1A,AKT1,SOCS3,PPARA,CRP,GH1,IGF1,JAK2,STAT3,IKBKB,IL1B,LPL}
\hub{dp}{Hypogon}{LEP,LEPR,NPY,INS,GH1}
\hub{dp}{MacDeg}{ESR1,SHC1,IGF1,IGF1R,VEGFA,PTEN,THBS1,SOCS3}
\hub{dp}{ShortStat}{GH1,GHR,IGF1,IGF1R,PPARA,FOXO1A,SLC2A1}
\hub{dp}{GrowthRet}{GH1,GHR,IGF1,IGF1R,INS,INSR,IRS2,SLC2A4,PIK3R1,FOXO1A,SLC2A1,LEP}
\hub{dp}{Hypoglycemia}{INS,INSR,IRS2,SLC2A4,SLC2A1,GH1,FOXO1A,PTPN1,PIK3R1}
\hub{dp}{Hypertrig}{LPL,APOA4,APOE,APOB,INS,LEP,CETP,LDLR,ENSP2,APOA2}
\hub{dp}{Hyperlipo}{LPL,APOE,APOA4,APOA2,LDLR,APOB,CETP,ENSP2}
\hub{dp}{Hyperlipid}{APOA4,APOE,APOB,APOA2,LPA,LDLR,CETP}
\hub{dp}{Hyperchol}{APOB,LDLR,APOE,LPA,APOA2}
\hub{dp}{Athero}{LPL,LDLR,ENSP2,APOE,APOB,LPA,CETP,VLDLR,INS,TNF,IL6,CRP}
\hub{dp}{Dementia}{APOE,LRP8,VLDLR,RELN}
\hub{dp}{Cerebellar}{RELN,VLDLR,LRP8,APOB}
\hub{dp}{Supranuclear}{LRP8,RELN,APOE}
\end{pgfonlayer}
% ---------- Legend: interaction
\draw[line width=2.2pt] (47,689) -- (169,689);
\node[ttl] at (108,702) {INTERACTION};
\draw[line width=2.2pt] (47,714) -- (169,714);
\draw[draw=pinkL, line width=4pt] (55,727) -- (160,727);
\node[inner sep=0pt, font=\legfontr\fontsize{13}{15}\selectfont, text=black!85] at (107,741) {protein-protein};
\draw[draw=grayE, line width=4pt, dash pattern=on 22pt off 7pt] (55,761) -- (160,761);
\node[inner sep=0pt, font=\legfontr\fontsize{13}{15}\selectfont, text=black!85] at (107,777) {disease-protein};
% ---------- Legend: node size
\draw[line width=2.2pt] (45,829) -- (167,829);
\node[ttl] at (106,843) {NODE SIZE};
\draw[line width=2.2pt] (45,855) -- (167,855);
\fill[sz1] (103,892) circle (31pt);
\node[inner sep=0pt, text=white, font=\fontsize{18}{20}\selectfont] at (103,892) {16-18};
\fill[sz2] (103,952) circle (25pt);
\node[inner sep=0pt, text=white, font=\fontsize{17}{19}\selectfont] at (103,952) {11-15};
\fill[sz3] (103,1001) circle (20pt);
\node[inner sep=0pt, text=white, font=\fontsize{14}{16}\selectfont] at (103,1001) {6-10};
\fill[sz4] (103,1039) circle (15pt);
\node[inner sep=0pt, text=white, font=\fontsize{11}{13}\selectfont] at (103,1039) {2-5};
\draw[line width=2.2pt] (45,1060) -- (167,1060);
% ---------- Legend: disease classes
\draw[line width=2.2pt] (189,885) -- (792,885);
\node[ttl] at (488,898) {DISEASE CLASSES};
\draw[line width=2.2pt] (189,910) -- (792,910);
\legitem{201}{929}{cBact}{Bacterial Infections}
\legitem{201}{956}{cCardio}{Cardiovascular}
\legitem{201}{984}{cCong}{Congenital}
\legitem{201}{1011}{cDig}{Digestive System}
\legitem{201}{1037}{cEndo}{Endocrine}
\legitem{384}{929}{cEye}{Eye}
\legitem{384}{956}{cHemic}{Hemic and Lymphathic}
\legitem{384}{984}{cMusc}{Muscoskeletal}
\legitem{384}{1011}{cNeo}{Neoplasms}
\legitem{384}{1037}{cNerv}{Nervous System}
\legitem{581}{929}{cNutr}{Nutritional and Metabolic}
\legitem{581}{956}{cPara}{Parasitic}
\legitem{581}{984}{cPatho}{Pathological Condition}
\legitem{581}{1011}{cResp}{Respiratory}
\legitem{581}{1037}{cUro}{Urogenital}
\draw[line width=2.2pt] (189,1060) -- (792,1060);
\end{tikzpicture}
\end{document}
